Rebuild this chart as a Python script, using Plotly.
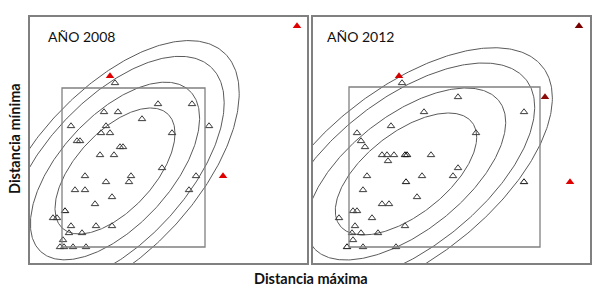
import numpy as np
import plotly.graph_objects as go

# ---------------- data (arbitrary distance units) ----------------
# Año 2008
x08 = [85, 128, 162, 74, 88, 112, 41, 76, 179, 71, 80, 142, 47, 50, 90, 93, 70, 84, 132,
       55, 101, 166, 76, 99, 45, 55, 159, 82, 65, 35, 23, 27, 41, 66, 82, 39, 52, 33,
       30, 34, 43, 56]
y08 = [180, 159, 159, 151, 151, 144, 137, 137, 137, 130, 130, 130, 122, 122, 116, 116, 108, 108, 95,
       87, 87, 87, 81, 81, 73, 73, 73, 66, 59, 52, 45, 45, 37, 37, 37, 30, 30, 23,
       16, 16, 16, 16]
dark08 = [29]
xo08 = [80, 193, 267]
yo08 = [187, 87, 237]

# Año 2012
x12 = [89, 145, 111, 211, 78, 44, 163, 48, 52, 69, 74, 81, 92, 94, 118, 75, 145, 54, 109,
       140, 93, 211, 50, 104, 69, 76, 40, 44, 26, 59, 42, 92, 39, 48, 65, 40, 34, 50, 83]
y12 = [180, 166, 151, 151, 137, 130, 130, 122, 116, 108, 108, 108, 108, 108, 108, 102, 95, 87, 87,
       87, 81, 81, 73, 66, 59, 59, 52, 52, 45, 45, 37, 37, 30, 30, 30, 23, 16, 16, 16]
dark12 = [12, 13, 20, 21, 36]
xo12 = [86, 232, 266, 257]
yo12 = [187, 166, 237, 81]
co12 = ["#d40000", "#8b0a0a", "#7a0000", "#e00000"]

# ellipse parameters: centre, covariance terms, scale factors of the four contours
ell08 = dict(cx=85, cy=92, sxx=3600, syy=3970, sxy=2250)
ell12 = dict(cx=93, cy=89, sxx=5000, syy=3720, sxy=2600)
scales = [1.0, 1.41, 1.82, 2.07]
# central rectangles
rect08 = [32, 16, 175, 175]
rect12 = [36, 16, 227, 176]

XR = [0, 277]
YR = [0, 246]

fig = go.Figure()


def ellipse(p, s):
    L = np.linalg.cholesky(np.array([[p["sxx"], p["sxy"]], [p["sxy"], p["syy"]]]))
    t = np.linspace(0, 2 * np.pi, 361)
    pts = L @ np.vstack([np.cos(t), np.sin(t)]) * s
    return p["cx"] + pts[0], p["cy"] + pts[1]


def add_panel(xs, ys, dark, xo, yo, co, ell, rect, xa, ya):
    for s in scales:
        ex, ey = ellipse(ell, s)
        fig.add_trace(go.Scatter(x=ex, y=ey, mode="lines", xaxis=xa, yaxis=ya,
                                 line=dict(color="#5a5a5a", width=1), hoverinfo="skip",
                                 showlegend=False))
    fig.add_shape(type="rect", x0=rect[0], y0=rect[1], x1=rect[2], y1=rect[3],
                  xref=xa, yref=ya, line=dict(color="#808080", width=1.3))
    cols = ["#111111" if i in dark else "#3a3a3a" for i in range(len(xs))]
    fig.add_trace(go.Scatter(x=xs, y=ys, mode="markers", xaxis=xa, yaxis=ya, showlegend=False,
                             marker=dict(symbol="triangle-up-open", size=6.5, color=cols,
                                         line=dict(width=1, color=cols)), cliponaxis=False))
    fig.add_trace(go.Scatter(x=xo, y=yo, mode="markers", xaxis=xa, yaxis=ya, showlegend=False,
                             marker=dict(symbol="triangle-up", size=7.5, color=co,
                                         line=dict(width=0)), cliponaxis=False))


add_panel(x08, y08, dark08, xo08, yo08, ["#e00000"] * 3, ell08, rect08, "x", "y")
add_panel(x12, y12, dark12, xo12, yo12, co12, ell12, rect12, "x2", "y2")

W, H = 600, 290
ax = dict(range=XR, showgrid=False, zeroline=False, showticklabels=False, ticks="",
          showline=True, mirror=True, linecolor="#808080", linewidth=1.5)
ay = dict(range=YR, showgrid=False, zeroline=False, showticklabels=False, ticks="",
          showline=True, mirror=True, linecolor="#808080", linewidth=1.5)
ydom = [27 / H, 273 / H]
fig.update_layout(
    width=W, height=H, margin=dict(l=0, r=0, t=0, b=0),
    paper_bgcolor="white", plot_bgcolor="white",
    xaxis=dict(ax, domain=[30 / W, 307 / W]),
    yaxis=dict(ay, domain=ydom),
    xaxis2=dict(ax, domain=[313 / W, 590 / W]),
    yaxis2=dict(ay, domain=ydom, anchor="x2"),
    font=dict(family="Lato, Open Sans, sans-serif", color="#111111"),
)
fig.layout.xaxis2.anchor = "y2"

fig.add_annotation(text="AÑO 2008", x=46 / W, y=1 - 36 / H, xref="paper", yref="paper",
                   xanchor="left", yanchor="middle", showarrow=False, font=dict(size=14))
fig.add_annotation(text="AÑO 2012", x=325 / W, y=1 - 36 / H, xref="paper", yref="paper",
                   xanchor="left", yanchor="middle", showarrow=False, font=dict(size=14))
fig.add_annotation(text="<b>Distancia máxima</b>", x=311 / W, y=1 - 278 / H, xref="paper",
                   yref="paper", xanchor="center", yanchor="middle", showarrow=False,
                   font=dict(size=14.5))
fig.add_annotation(text="<b>Distancia mínima</b>", x=14 / W, y=1 - 139 / H, xref="paper",
                   yref="paper", xanchor="center", yanchor="middle", showarrow=False,
                   textangle=-90, font=dict(size=14.5))

fig.write_html("out.html")
